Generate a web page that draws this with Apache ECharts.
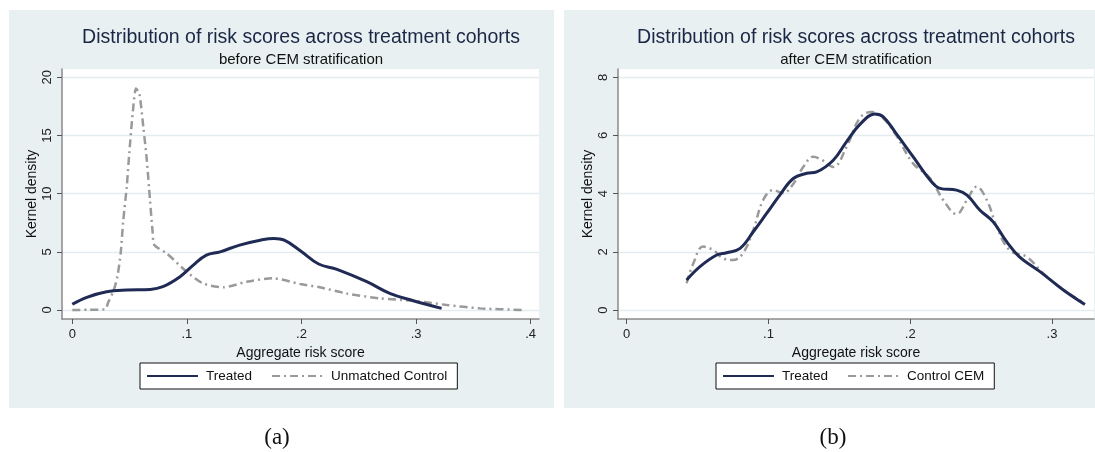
<!DOCTYPE html>
<html>
<head>
<meta charset="utf-8">
<script src="https://cdn.jsdelivr.net/npm/echarts@6/dist/echarts.min.js"></script>
<style>
html,body{margin:0;padding:0;background:#fff;}
#chart{width:1095px;height:452px;}
</style>
</head>
<body>
<div id="chart"></div>
<script>
// ---- Data ----
const titleText = 'Distribution of risk scores across treatment cohorts';
const subtitleLeft = 'before CEM stratification';
const subtitleRight = 'after CEM stratification';
const xTicksLeft = [0, 0.1, 0.2, 0.3, 0.4];
const yTicksLeft = [0, 5, 10, 15, 20];
const xTicksRight = [0, 0.1, 0.2, 0.3];
const yTicksRight = [0, 2, 4, 6, 8];

const leftTreated = [[0,0.49],[0.0126,1.09],[0.03,1.57],[0.0475,1.72],[0.068,1.77],[0.079,2.0],[0.094,2.86],[0.1056,3.86],[0.117,4.72],[0.129,5.0],[0.146,5.58],[0.164,6.0],[0.176,6.15],[0.185,6.0],[0.199,5.1],[0.215,3.95],[0.231,3.49],[0.257,2.43],[0.277,1.43],[0.2976,0.8],[0.3223,0.14]];
const leftControl = [[0,0],[0.015,0.02],[0.0285,0.06],[0.0315,0.7],[0.0358,1.6],[0.0393,2.86],[0.0422,4.87],[0.0445,7.73],[0.0475,10.58],[0.0497,13.45],[0.0527,16.9],[0.0556,19.03],[0.0585,18.6],[0.062,15.7],[0.065,12.9],[0.0678,9.44],[0.0702,6.58],[0.0716,5.58],[0.0824,4.86],[0.0998,3.29],[0.114,2.29],[0.132,1.95],[0.152,2.43],[0.175,2.72],[0.199,2.23],[0.216,1.95],[0.239,1.43],[0.268,1.0],[0.2976,0.8],[0.327,0.43],[0.356,0.14],[0.394,0.0]];
const rightTreated = [[0.0423,1.03],[0.0517,1.49],[0.0635,1.89],[0.0705,1.97],[0.080,2.12],[0.0893,2.69],[0.0987,3.32],[0.108,3.95],[0.1175,4.52],[0.127,4.70],[0.134,4.75],[0.1457,5.15],[0.155,5.78],[0.1645,6.38],[0.175,6.74],[0.181,6.64],[0.190,6.07],[0.202,5.27],[0.214,4.47],[0.221,4.18],[0.2327,4.12],[0.240,3.95],[0.249,3.44],[0.2585,3.03],[0.268,2.35],[0.277,1.83],[0.2915,1.32],[0.308,0.69],[0.3232,0.19]];
const rightControl = [[0.0423,0.92],[0.047,1.60],[0.054,2.18],[0.061,2.06],[0.068,1.78],[0.075,1.72],[0.082,1.95],[0.0893,2.75],[0.0963,3.78],[0.1034,4.12],[0.1104,4.02],[0.117,4.3],[0.125,4.95],[0.1316,5.27],[0.138,5.15],[0.1457,4.92],[0.155,5.6],[0.1645,6.6],[0.1728,6.81],[0.181,6.59],[0.190,6.01],[0.202,5.04],[0.214,4.53],[0.2233,3.78],[0.2327,3.30],[0.240,3.78],[0.2468,4.24],[0.254,3.78],[0.261,2.86],[0.270,2.06],[0.282,1.83],[0.2938,1.26],[0.308,0.69],[0.3232,0.23]];

const legendLeft = ['Treated', 'Unmatched Control'];
const legendRight = ['Treated', 'Control CEM'];

// ---- Styling ----
const FONT = 'Liberation Sans, Arial, sans-serif';
const NAVY = '#1f2b55';
const GRAY = '#9a9a9a';
const PANEL = '#e9f0f2';
const GRIDC = '#e3ecef';
const DASH = [8, 4, 2, 4];

function fmtX(v) {
  if (Math.abs(v) < 1e-9) return '0';
  return ('' + Math.round(v * 10) / 10).replace(/^0/, '');
}

function xAxisCfg(gi, min, max, ticks) {
  return {
    type: 'value', gridIndex: gi, min: min, max: max,
    name: 'Aggregate risk score', nameLocation: 'middle', nameGap: 23,
    nameTextStyle: { fontFamily: FONT, fontSize: 14, color: '#111' },
    axisLine: { show: true, onZero: false, lineStyle: { color: '#8a8a8a', width: 1.5 } },
    axisTick: { show: true, length: 5, customValues: ticks, lineStyle: { color: '#555', width: 1 } },
    axisLabel: { customValues: ticks, formatter: fmtX, margin: 9, fontFamily: FONT, fontSize: 13, color: '#222', showMinLabel: true, showMaxLabel: true },
    splitLine: { show: false }
  };
}
function yAxisCfg(gi, min, max, ticks) {
  return {
    type: 'value', gridIndex: gi, min: min, max: max,
    name: 'Kernel density', nameLocation: 'middle', nameGap: 23, nameRotate: 90,
    nameTextStyle: { fontFamily: FONT, fontSize: 14, color: '#111' },
    axisLine: { show: true, onZero: false, lineStyle: { color: '#8a8a8a', width: 1.5 } },
    axisTick: { show: true, length: 5, customValues: ticks, lineStyle: { color: '#555', width: 1 } },
    axisLabel: { customValues: ticks, rotate: 90, margin: 8, fontFamily: FONT, fontSize: 13, color: '#222' },
    splitLine: { show: true, lineStyle: { color: GRIDC, width: 1.3 } }
  };
}

function legendCfg(left, names) {
  return {
    left: left, top: 363, orient: 'horizontal',
    data: names.map(n => ({ name: n })),
    backgroundColor: '#fff', borderColor: '#111', borderWidth: 1,
    padding: [6, 10, 6, 6], itemWidth: 51, itemHeight: 14, itemGap: 19,
    selectedMode: false,
    itemStyle: { opacity: 0 },
    textStyle: { fontFamily: FONT, fontSize: 13.5, color: '#111', padding: [0, 0, 0, 3] }
  };
}

const chart = echarts.init(document.getElementById('chart'), null, { renderer: 'canvas' });

const option = {
  backgroundColor: '#ffffff',
  animation: false,
  graphic: [
    { type: 'rect', z: -100, shape: { x: 9, y: 10, width: 545, height: 398 }, style: { fill: PANEL } },
    { type: 'rect', z: -100, shape: { x: 564, y: 10, width: 531, height: 398 }, style: { fill: PANEL } },
    { type: 'text', x: 301, y: 38, style: { text: titleText, fontFamily: FONT, fontSize: 19.5, fill: '#1a2744', align: 'center', verticalAlign: 'middle' } },
    { type: 'text', x: 301, y: 60, style: { text: subtitleLeft, fontFamily: FONT, fontSize: 15, fill: '#111', align: 'center', verticalAlign: 'middle' } },
    { type: 'text', x: 856, y: 38, style: { text: titleText, fontFamily: FONT, fontSize: 19.5, fill: '#1a2744', align: 'center', verticalAlign: 'middle' } },
    { type: 'text', x: 856, y: 60, style: { text: subtitleRight, fontFamily: FONT, fontSize: 15, fill: '#111', align: 'center', verticalAlign: 'middle' } },
    { type: 'text', x: 277, y: 438, style: { text: '(a)', fontFamily: 'Liberation Serif, DejaVu Serif, serif', fontSize: 23, fill: '#111', align: 'center', verticalAlign: 'middle' } },
    { type: 'text', x: 833, y: 438, style: { text: '(b)', fontFamily: 'Liberation Serif, DejaVu Serif, serif', fontSize: 23, fill: '#111', align: 'center', verticalAlign: 'middle' } }
  ],
  grid: [
    { left: 62, top: 69, width: 477, height: 250, show: true, backgroundColor: '#fff', borderWidth: 0, containLabel: false },
    { left: 618, top: 69, width: 476, height: 250, show: true, backgroundColor: '#fff', borderWidth: 0, containLabel: false }
  ],
  xAxis: [
    xAxisCfg(0, -0.0090, 0.4073, xTicksLeft),
    xAxisCfg(1, -0.0061, 0.3296, xTicksRight)
  ],
  yAxis: [
    yAxisCfg(0, -0.773, 20.71, yTicksLeft),
    yAxisCfg(1, -0.309, 8.285, yTicksRight)
  ],
  legend: [ legendCfg(140, legendLeft), legendCfg(716, legendRight) ],
  series: [
    { name: 'Unmatched Control', type: 'line', xAxisIndex: 0, yAxisIndex: 0, data: leftControl, showSymbol: false, symbol: 'none', smooth: 0.25,
      lineStyle: { color: GRAY, width: 2.5, type: DASH }, itemStyle: { color: GRAY }, z: 2 },
    { name: 'Treated', type: 'line', xAxisIndex: 0, yAxisIndex: 0, data: leftTreated, showSymbol: false, symbol: 'none', smooth: 0.4,
      lineStyle: { color: NAVY, width: 3 }, itemStyle: { color: NAVY }, z: 3 },
    { name: 'Control CEM', type: 'line', xAxisIndex: 1, yAxisIndex: 1, data: rightControl, showSymbol: false, symbol: 'none', smooth: 0.4,
      lineStyle: { color: GRAY, width: 2.5, type: DASH }, itemStyle: { color: GRAY }, z: 2 },
    { name: 'Treated', type: 'line', xAxisIndex: 1, yAxisIndex: 1, data: rightTreated, showSymbol: false, symbol: 'none', smooth: 0.4,
      lineStyle: { color: NAVY, width: 3 }, itemStyle: { color: NAVY }, z: 3 }
  ]
};
chart.setOption(option);
</script>
</body>
</html>
